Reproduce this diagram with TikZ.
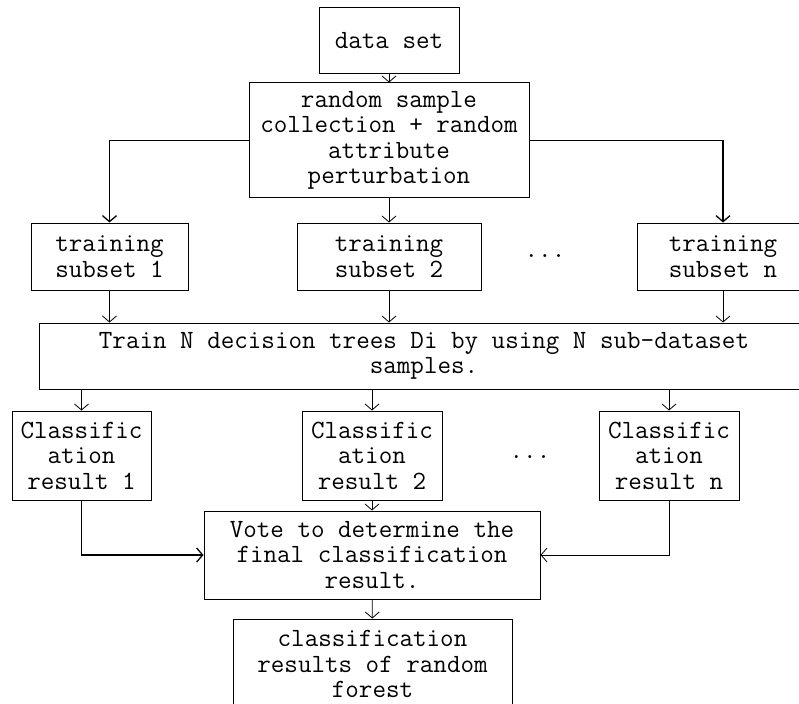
\documentclass[tikz,border=0pt]{standalone}
\usetikzlibrary{arrows.meta}
\begin{document}
\begin{tikzpicture}[
            x=1pt, y=-1pt,
            box/.style={draw, line width=1pt, inner sep=0pt, align=center,
                font=\ttfamily\fontsize{26.3}{25.5}\selectfont},
            flow/.style={-{Straight Barb[length=6pt,width=14pt]}, line width=0.8pt},
            ]
            \clip (0,0) rectangle (799,703);
            \node (D) [box, minimum width=140, minimum height=66] at (389,41) {data set};
            \node (R) [box, minimum width=280, minimum height=115] at (389,140.5)
                {random sample\\collection + random\\attribute\\perturbation};
            \node (T1) [box, minimum width=157, minimum height=67] at (109.5,256.5) {training\\subset 1};
            \node (T2) [box, minimum width=184, minimum height=67] at (389,256.5) {training\\subset 2};
            \node (Tn) [box, minimum width=172, minimum height=67] at (723,256.5) {training\\subset n};
            \node (dots1) [font=\ttfamily\fontsize{26.3}{25.5}\selectfont] at (545,256) {...};
            \node (N) [box, minimum width=770, minimum height=66] at (424,356)
                {Train N decision trees Di by using N sub-dataset\\samples.};
            \node (C1) [box, minimum width=139, minimum height=89] at (81.5,455.5) {Classific\\ation\\result 1};
            \node (C2) [box, minimum width=140, minimum height=89] at (372,455.5) {Classific\\ation\\result 2};
            \node (Cn) [box, minimum width=140, minimum height=89] at (669,455.5) {Classific\\ation\\result n};
            \node (dots2) [font=\ttfamily\fontsize{26.3}{25.5}\selectfont] at (530,457) {...};
            \node (V) [box, minimum width=336, minimum height=88] at (372,555)
                {Vote to determine the\\final classification\\result.};
            \node (F) [box, minimum width=279, minimum height=90] at (372.5,664)
                {classification\\results of random\\forest};

            \draw[flow] (D) -- (R);
            \draw[flow, line width=1.3pt] (R.west) -| (T1.north);
            \draw[flow, line width=1.3pt] (R.east) -| (Tn.north);
            \draw[flow] (R) -- (T2);
            \draw[flow] (T1) -- (T1 |- N.north);
            \draw[flow] (T2) -- (T2 |- N.north);
            \draw[flow] (Tn) -- (Tn |- N.north);
            \draw[flow] (N.south -| C1) -- (C1);
            \draw[flow] (N.south -| C2) -- (C2);
            \draw[flow] (N.south -| Cn) -- (Cn);
            \draw[flow, line width=1.3pt] (C1.south) |- (V.west);
            \draw[flow] (Cn.south) |- (V.east);
            \draw[flow] (C2) -- (V);
            \draw[flow] (V) -- (F);
        \end{tikzpicture}
\end{document}
